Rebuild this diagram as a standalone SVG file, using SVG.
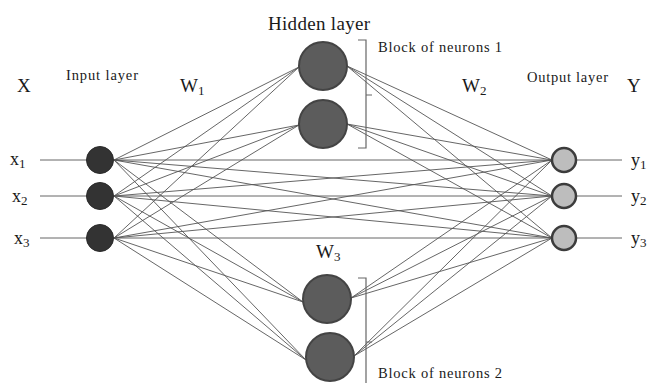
<svg xmlns="http://www.w3.org/2000/svg" width="649" height="383" viewBox="0 0 649 383">
<style>
.t{font-family:"Liberation Serif","Times New Roman",serif;fill:#1a1a1a}
.c line{stroke:#555;stroke-width:0.9}
.io{stroke:#555;stroke-width:1.2}
.in{fill:#333;stroke:#2a2a2a;stroke-width:1}
.hid{fill:#5c5c5c;stroke:#444;stroke-width:2}
.out{fill:#bdbdbd;stroke:#3c3c3c;stroke-width:2.5}
.br{fill:none;stroke:#666;stroke-width:1.2}
</style>
<rect width="649" height="383" fill="#fff"/>
<g id="connectors" class="c">
<line x1="40" y1="160" x2="100" y2="160"/>
<line x1="40" y1="196" x2="100" y2="196"/>
<line x1="40" y1="238" x2="100" y2="238"/>
<line x1="564" y1="160" x2="622" y2="160"/>
<line x1="564" y1="196" x2="622" y2="196"/>
<line x1="564" y1="238" x2="622" y2="238"/>
<line x1="114" y1="160" x2="299" y2="67"/>
<line x1="114" y1="160" x2="299" y2="125"/>
<line x1="114" y1="160" x2="303" y2="302"/>
<line x1="114" y1="160" x2="306" y2="360"/>
<line x1="114" y1="196" x2="299" y2="67"/>
<line x1="114" y1="196" x2="299" y2="125"/>
<line x1="114" y1="196" x2="303" y2="302"/>
<line x1="114" y1="196" x2="306" y2="360"/>
<line x1="114" y1="238" x2="299" y2="67"/>
<line x1="114" y1="238" x2="299" y2="125"/>
<line x1="114" y1="238" x2="303" y2="302"/>
<line x1="114" y1="238" x2="306" y2="360"/>
<line x1="347" y1="66" x2="552" y2="160"/>
<line x1="347" y1="66" x2="552" y2="196"/>
<line x1="347" y1="66" x2="552" y2="238"/>
<line x1="347" y1="124" x2="552" y2="160"/>
<line x1="347" y1="124" x2="552" y2="196"/>
<line x1="347" y1="124" x2="552" y2="238"/>
<line x1="351" y1="298" x2="552" y2="160"/>
<line x1="351" y1="298" x2="552" y2="196"/>
<line x1="351" y1="298" x2="552" y2="238"/>
<line x1="354" y1="356" x2="552" y2="160"/>
<line x1="354" y1="356" x2="552" y2="196"/>
<line x1="354" y1="356" x2="552" y2="238"/>
<line class="io" x1="114" y1="160" x2="552" y2="160"/>
<line x1="114" y1="160" x2="552" y2="196"/>
<line x1="114" y1="160" x2="552" y2="238"/>
<line x1="114" y1="196" x2="552" y2="160"/>
<line class="io" x1="114" y1="196" x2="552" y2="196"/>
<line x1="114" y1="196" x2="552" y2="238"/>
<line x1="114" y1="238" x2="552" y2="160"/>
<line x1="114" y1="238" x2="552" y2="196"/>
<line class="io" x1="114" y1="238" x2="552" y2="238"/>
</g>
<g id="input1"><circle class="in" cx="100" cy="160" r="13.5"/><text class="t" x="10" y="165" font-size="18">x<tspan font-size="13" dy="3">1</tspan></text></g>
<g id="input2"><circle class="in" cx="100" cy="196" r="13.5"/><text class="t" x="12" y="202" font-size="18">x<tspan font-size="13" dy="3">2</tspan></text></g>
<g id="input3"><circle class="in" cx="100" cy="238" r="13.5"/><text class="t" x="14" y="244" font-size="18">x<tspan font-size="13" dy="3">3</tspan></text></g>
<g id="hidden1"><circle class="hid" cx="323" cy="66" r="24"/></g>
<g id="hidden2"><circle class="hid" cx="323" cy="124" r="24"/></g>
<g id="hidden3"><circle class="hid" cx="327" cy="299" r="24"/></g>
<g id="hidden4"><circle class="hid" cx="330" cy="357" r="24"/></g>
<g id="output1"><circle class="out" cx="564" cy="160" r="12"/><text class="t" x="631" y="166" font-size="18">y<tspan font-size="13" dy="3">1</tspan></text></g>
<g id="output2"><circle class="out" cx="564" cy="196" r="12"/><text class="t" x="631" y="202" font-size="18">y<tspan font-size="13" dy="3">2</tspan></text></g>
<g id="output3"><circle class="out" cx="564" cy="238" r="12"/><text class="t" x="631" y="244" font-size="18">y<tspan font-size="13" dy="3">3</tspan></text></g>
<g id="block1">
<path class="br" d="M358 40 H366 V148 H358 M366 95 H372"/>
<text class="t" x="378" y="52" font-size="14.5" textLength="124" lengthAdjust="spacing">Block of neurons 1</text>
</g>
<g id="block2">
<path class="br" d="M358 278 H366 V383 M366 342 H372"/>
<text class="t" x="378" y="378" font-size="14.5" textLength="124" lengthAdjust="spacing">Block of neurons 2</text>
</g>
<g id="labels">
<text class="t" x="268" y="30" font-size="19" textLength="102" lengthAdjust="spacing">Hidden layer</text>
<text class="t" x="66" y="80" font-size="14.5" textLength="72" lengthAdjust="spacing">Input layer</text>
<text class="t" x="527" y="82" font-size="14.5" textLength="81" lengthAdjust="spacing">Output layer</text>
<text class="t" x="17" y="92" font-size="19">X</text>
<text class="t" x="627" y="92" font-size="19">Y</text>
<text class="t" x="180" y="92" font-size="19">W<tspan font-size="13" dy="3">1</tspan></text>
<text class="t" x="462" y="92" font-size="19">W<tspan font-size="13" dy="3">2</tspan></text>
<text class="t" x="316" y="258" font-size="19">W<tspan font-size="13" dy="3">3</tspan></text>
</g>
</svg>
